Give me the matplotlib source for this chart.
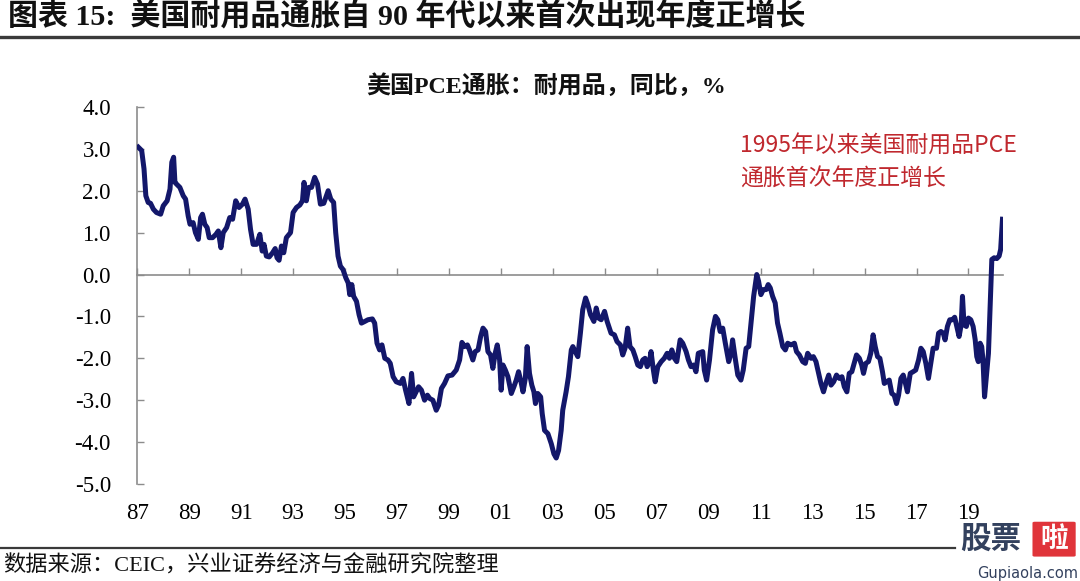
# US durable goods PCE inflation, YoY %, 1987-2020
import matplotlib
matplotlib.use('Agg')
import matplotlib.pyplot as plt
from matplotlib.patches import FancyBboxPatch

plt.rcParams['font.family'] = ['Liberation Serif', 'Noto Sans CJK SC']
plt.rcParams['axes.unicode_minus'] = False

# data (decimal year, % yoy), split by period
years_87_97 = [1987.04, 1987.17, 1987.26, 1987.33, 1987.42, 1987.51, 1987.62, 1987.74, 1987.90, 1988.00,
               1988.15, 1988.26, 1988.33, 1988.40, 1988.45, 1988.51, 1988.64, 1988.77, 1988.86, 1988.96,
               1989.03, 1989.15, 1989.24, 1989.35, 1989.44, 1989.51, 1989.60, 1989.69, 1989.77, 1989.90,
               1990.03, 1990.12, 1990.22, 1990.31, 1990.44, 1990.56, 1990.67, 1990.79, 1990.92, 1991.05,
               1991.15, 1991.27, 1991.36, 1991.46, 1991.59, 1991.72, 1991.81, 1991.88, 1991.97, 1992.08,
               1992.21, 1992.31, 1992.38, 1992.46, 1992.55, 1992.64, 1992.74, 1992.90, 1993.00, 1993.13,
               1993.26, 1993.36, 1993.42, 1993.51, 1993.60, 1993.71, 1993.83, 1993.94, 1994.05, 1994.18,
               1994.35, 1994.45, 1994.56, 1994.64, 1994.73, 1994.82, 1994.92, 1995.03, 1995.12, 1995.18,
               1995.26, 1995.33, 1995.44, 1995.54, 1995.63, 1995.76, 1995.88, 1996.05, 1996.14, 1996.23,
               1996.33, 1996.42, 1996.53, 1996.65, 1996.74, 1996.85, 1996.97, 1997.13, 1997.23, 1997.33,
               1997.46, 1997.56, 1997.64]
pce_87_97 = [3.04, 2.96, 2.52, 1.88, 1.72, 1.70, 1.56, 1.48, 1.44, 1.64,
             1.76, 2.04, 2.68, 2.80, 2.20, 2.16, 2.08, 1.88, 1.80, 1.40,
             1.20, 1.24, 1.00, 0.84, 1.36, 1.44, 1.20, 1.12, 0.88, 0.88,
             0.96, 1.04, 0.64, 1.00, 1.12, 1.36, 1.32, 1.76, 1.60, 1.68,
             1.80, 1.56, 1.08, 0.72, 0.72, 0.96, 0.56, 0.72, 0.44, 0.42,
             0.52, 0.62, 0.40, 0.34, 0.68, 0.52, 0.88, 1.00, 1.48, 1.60,
             1.66, 1.76, 2.20, 1.76, 2.08, 2.08, 2.32, 2.16, 1.68, 1.70,
             2.00, 1.80, 1.72, 1.00, 0.44, 0.20, 0.12, -0.08, -0.20, -0.48,
             -0.24, -0.52, -0.64, -0.96, -1.16, -1.12, -1.08, -1.06, -1.16, -1.64,
             -1.80, -1.68, -2.00, -2.04, -2.12, -2.44, -2.56, -2.60, -2.48, -2.76,
             -3.08, -2.36, -2.92]

years_97_08 = [1997.83, 1997.94, 1998.06, 1998.17, 1998.26, 1998.38, 1998.51, 1998.60, 1998.71, 1998.83,
               1998.96, 1999.12, 1999.28, 1999.41, 1999.50, 1999.60, 1999.71, 1999.79, 1999.92, 2000.01,
               2000.12, 2000.22, 2000.31, 2000.41, 2000.50, 2000.60, 2000.69, 2000.78, 2000.86, 2000.95,
               2001.01, 2001.08, 2001.17, 2001.27, 2001.40, 2001.50, 2001.59, 2001.68, 2001.76, 2001.85,
               2001.94, 2002.01, 2002.10, 2002.19, 2002.27, 2002.33, 2002.42, 2002.53, 2002.59, 2002.68,
               2002.81, 2002.94, 2003.04, 2003.13, 2003.22, 2003.32, 2003.38, 2003.51, 2003.60, 2003.71,
               2003.77, 2003.86, 2003.96, 2004.06, 2004.15, 2004.26, 2004.35, 2004.45, 2004.58, 2004.67,
               2004.76, 2004.86, 2004.99, 2005.09, 2005.24, 2005.37, 2005.47, 2005.60, 2005.69, 2005.78,
               2005.88, 2005.97, 2006.08, 2006.17, 2006.27, 2006.37, 2006.46, 2006.55, 2006.63, 2006.72,
               2006.78, 2006.87, 2006.94, 2007.04, 2007.17, 2007.29, 2007.40, 2007.49, 2007.58, 2007.68,
               2007.77, 2007.90, 2008.00, 2008.13, 2008.22, 2008.32, 2008.42, 2008.51, 2008.60]
pce_97_08 = [-2.68, -2.76, -3.00, -2.88, -2.96, -3.00, -3.24, -3.12, -2.72, -2.60,
             -2.42, -2.40, -2.28, -2.04, -1.62, -1.72, -1.68, -1.80, -2.04, -1.84,
             -1.80, -1.48, -1.28, -1.36, -1.84, -1.92, -2.24, -1.88, -1.68, -2.04,
             -2.76, -2.16, -2.28, -2.44, -2.84, -2.68, -2.52, -2.32, -2.52, -2.80,
             -2.48, -1.72, -2.36, -2.64, -2.80, -3.08, -2.84, -2.92, -3.32, -3.72,
             -3.80, -4.04, -4.28, -4.38, -4.20, -3.72, -3.24, -2.80, -2.44, -1.80,
             -1.72, -1.84, -1.96, -1.40, -0.84, -0.56, -0.72, -0.96, -1.12, -0.80,
             -1.04, -1.08, -0.88, -1.12, -1.40, -1.44, -1.60, -1.68, -1.92, -1.76,
             -1.28, -1.72, -1.80, -1.96, -2.16, -2.20, -2.04, -2.00, -2.20, -2.08,
             -1.84, -2.28, -2.56, -2.20, -2.08, -2.00, -1.88, -2.00, -1.80, -2.00,
             -2.08, -1.56, -1.64, -1.84, -2.04, -2.20, -2.16, -2.32, -1.88]

years_08_20 = [2008.77, 2008.83, 2008.92, 2009.03, 2009.15, 2009.26, 2009.35, 2009.44, 2009.54, 2009.64,
               2009.77, 2009.86, 2009.92, 2010.03, 2010.12, 2010.24, 2010.33, 2010.44, 2010.54, 2010.63,
               2010.73, 2010.85, 2010.92, 2011.01, 2011.10, 2011.21, 2011.29, 2011.37, 2011.46, 2011.56,
               2011.65, 2011.74, 2011.85, 2011.95, 2012.04, 2012.17, 2012.30, 2012.38, 2012.49, 2012.62,
               2012.72, 2012.81, 2012.94, 2013.03, 2013.13, 2013.23, 2013.32, 2013.42, 2013.51, 2013.62,
               2013.71, 2013.81, 2013.92, 2014.03, 2014.13, 2014.22, 2014.32, 2014.41, 2014.51, 2014.60,
               2014.69, 2014.80, 2014.89, 2014.96, 2015.05, 2015.15, 2015.24, 2015.33, 2015.41, 2015.50,
               2015.59, 2015.69, 2015.76, 2015.85, 2015.95, 2016.05, 2016.14, 2016.23, 2016.31, 2016.40,
               2016.49, 2016.56, 2016.65, 2016.76, 2016.87, 2016.97, 2017.08, 2017.17, 2017.26, 2017.36,
               2017.46, 2017.55, 2017.64, 2017.77, 2017.85, 2017.94, 2018.03, 2018.10, 2018.19, 2018.28,
               2018.38, 2018.47, 2018.55, 2018.64, 2018.72, 2018.77, 2018.83, 2018.92, 2019.00, 2019.09,
               2019.18, 2019.26, 2019.32, 2019.38, 2019.45, 2019.51, 2019.56, 2019.62, 2019.69, 2019.77,
               2019.83, 2019.90, 2019.99, 2020.09, 2020.18, 2020.24, 2020.31]
pce_08_20 = [-1.84, -2.28, -2.52, -2.04, -1.32, -1.00, -1.08, -1.36, -1.28, -1.64,
             -2.08, -1.88, -1.56, -2.04, -2.40, -2.52, -2.28, -1.76, -1.72, -1.16,
             -0.52, 0.00, -0.16, -0.48, -0.36, -0.36, -0.24, -0.32, -0.52, -0.68,
             -1.16, -1.40, -1.72, -1.80, -1.64, -1.68, -1.64, -1.84, -1.92, -2.08,
             -2.12, -1.88, -2.00, -1.96, -2.08, -2.36, -2.60, -2.80, -2.60, -2.40,
             -2.64, -2.56, -2.40, -2.48, -2.44, -2.68, -2.80, -2.36, -2.32, -2.12,
             -1.92, -2.00, -2.16, -2.36, -2.12, -2.08, -1.88, -1.44, -1.72, -1.96,
             -2.00, -2.32, -2.60, -2.56, -2.52, -2.84, -2.88, -3.08, -2.88, -2.48,
             -2.40, -2.56, -2.80, -2.36, -2.32, -2.28, -2.04, -1.76, -1.84, -2.12,
             -2.48, -2.12, -1.76, -1.76, -1.40, -1.36, -1.40, -1.56, -1.24, -1.08,
             -1.08, -1.02, -1.24, -1.48, -1.20, -0.52, -1.20, -1.24, -1.04, -1.08,
             -1.24, -1.56, -1.96, -2.08, -1.64, -1.72, -2.04, -2.92, -2.44, -1.88,
             -0.84, 0.36, 0.40, 0.38, 0.44, 0.60, 1.32]

x_ticks = list(range(1987, 2020, 2))
x_labels = ['87', '89', '91', '93', '95', '97', '99', '01', '03',
            '05', '07', '09', '11', '13', '15', '17', '19']
y_ticks = [-5, -4, -3, -2, -1, 0, 1, 2, 3, 4]

years = years_87_97 + years_97_08 + years_08_20
pce = pce_87_97 + pce_97_08 + pce_08_20

fig = plt.figure(figsize=(10.8, 5.81), dpi=100)
ax = fig.add_axes([0.1271, 0.1670, 0.8016, 0.6489])

ax.plot(years, pce, color='#13176A', linewidth=3.6, zorder=3, solid_joinstyle='round')

ax.set_xlim(1987, 2020.33)
ax.set_ylim(-5, 4)

axis_grey = '#8C8C8C'
for side in ['top', 'right']:
    ax.spines[side].set_visible(False)
ax.spines['left'].set_color(axis_grey)
ax.spines['left'].set_linewidth(1.2)
ax.spines['bottom'].set_position(('data', 0))
ax.spines['bottom'].set_color(axis_grey)
ax.spines['bottom'].set_linewidth(1.2)

ax.set_yticks(y_ticks)
ax.set_yticklabels(['%.1f' % v for v in y_ticks])
ax.tick_params(axis='y', direction='in', length=5, width=1, color=axis_grey,
               labelsize=16.5, pad=19)
ax.set_xticks(x_ticks)
ax.tick_params(axis='x', direction='in', length=5, width=1, color=axis_grey,
               labelbottom=False)

# year labels sit under the plot, not on the zero line
sec = ax.secondary_xaxis(0)
sec.set_xticks(x_ticks, labels=x_labels)
sec.spines['bottom'].set_visible(False)
sec.tick_params(length=0, labelsize=16.5, pad=14)

# titles and notes
fig.text(0.0074, 0.9707, '图表 15:  美国耐用品通胀自 90 年代以来首次出现年度正增长',
         fontsize=21.6, fontweight='bold', ha='left', va='center', color='#111111')
fig.add_artist(plt.Line2D([0, 1], [0.9363, 0.9363], color='#3A3A3A', linewidth=2.4))
fig.text(0.5056, 0.852, '美国PCE通胀：耐用品，同比，%', fontsize=17.3, fontweight='bold',
         ha='center', va='center', color='#111111')

red = '#C0282E'
fig.text(0.685, 0.7487, '1995年以来美国耐用品PCE', fontsize=16.5, color=red,
         family=['Noto Sans CJK SC'], ha='left', va='center')
fig.text(0.685, 0.692, '通胀首次年度正增长', fontsize=16.5, color=red,
         family=['Noto Sans CJK SC'], ha='left', va='center')

fig.add_artist(plt.Line2D([0, 0.884], [0.0568, 0.0568], color='#3A3A3A', linewidth=1.6))
fig.text(0.003, 0.0258, '数据来源：CEIC，兴业证券经济与金融研究院整理', fontsize=16,
         ha='left', va='center', color='#111111')

# watermark, bottom right
fig.text(0.889, 0.072, '股票', fontsize=22, fontweight='bold', color='#33415E',
         family=['Noto Sans CJK SC'], ha='left', va='center')
fig.add_artist(FancyBboxPatch((0.958, 0.044), 0.036, 0.056, boxstyle='round,pad=0.002',
                              transform=fig.transFigure, facecolor='#E0343A', edgecolor='none'))
fig.text(0.976, 0.072, '啦', fontsize=20, fontweight='bold', color='white',
         family=['Noto Sans CJK SC'], ha='center', va='center')
fig.text(0.998, 0.013, 'Gupiaola.com', fontsize=10.5, color='#33415E',
         family=['DejaVu Sans'], ha='right', va='center')

fig.savefig('out.png', dpi=100)
